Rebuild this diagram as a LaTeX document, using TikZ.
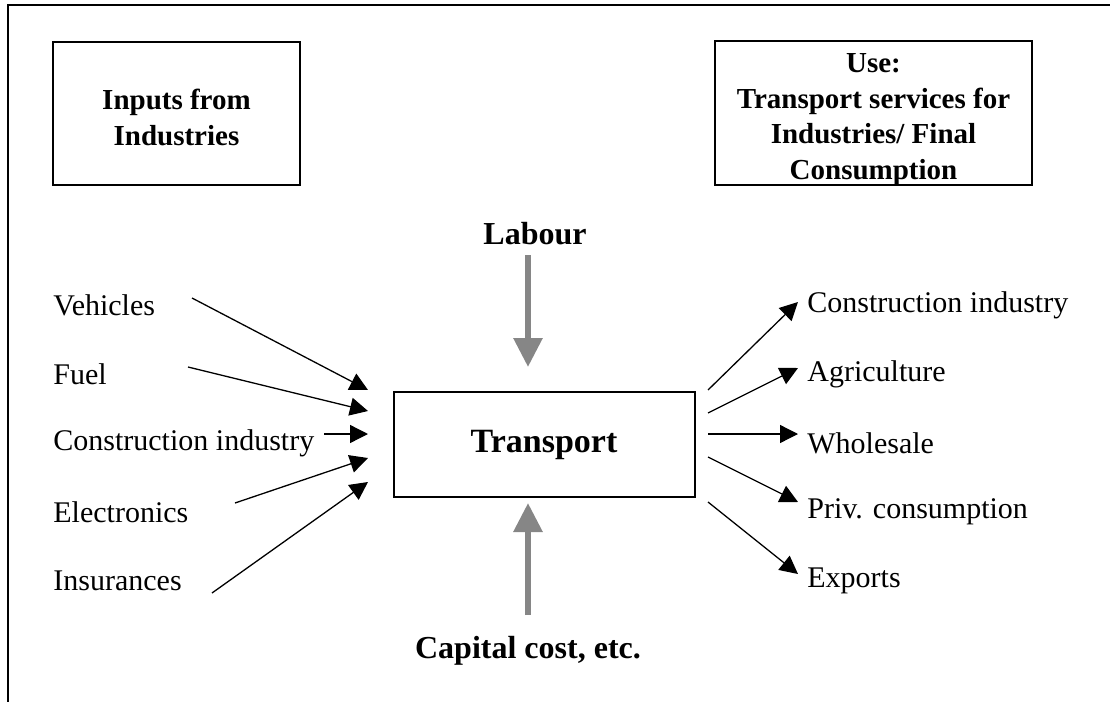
\documentclass[tikz,border=0pt]{standalone}
\usepackage{fontspec}
\setmainfont{Liberation Serif}
\usetikzlibrary{positioning,arrows.meta}

\definecolor{arrgray}{RGB}{134,134,134}

\tikzset{
    box/.style={rectangle,draw,line width=1pt,inner sep=0pt,align=center,font=\bfseries\fontsize{14.5}{17.75}\selectfont},
    lbl/.style={anchor=west,inner sep=0pt,font=\fontsize{15}{18}\selectfont},
    arr/.style={line width=0.65pt,-{Triangle[length=9pt,width=9pt]}},
    bigarr/.style={draw=arrgray,line width=3pt,-{Triangle[length=14.5pt,width=14pt]}}
}

\begin{document}
\begin{tikzpicture}[x=0.5pt,y=-0.5pt]
    \useasboundingbox (0,0) rectangle (1110,702);
    \draw[line width=1pt] (8,702) -- (8,5) -- (1110,5);

    % boxes
    \node[box,minimum width=123.5pt,minimum height=71.5pt] (inputs) at (176.5,113.5) {\rule{0pt}{14pt}Inputs from\\Industries};
    \node[box,minimum width=158.5pt,minimum height=72pt] (use) at (873.5,113) {\rule{0pt}{13pt}Use:\\Transport services for\\Industries/ Final\\\raisebox{0pt}[\height][0pt]{Consumption}};
    \node[rectangle,draw,line width=1pt,minimum width=150.5pt,minimum height=52.5pt,font=\bfseries\fontsize{17}{20}\selectfont] (trans) at (544,444.5) {Transport};

    \node[font=\bfseries\fontsize{16}{19}\selectfont] (labour) at (535,234) {Labour};
    \node[font=\bfseries\fontsize{16}{19}\selectfont] (capital) at (528,651) {Capital cost, etc.};

    % inputs
    \node[lbl] (veh) at (53,305) {Vehicles};
    \node[lbl] (fuel) at (53,374) {Fuel};
    \node[lbl] (cons) at (53,443) {Construction industry};
    \node[lbl] (elec) at (53,512) {Electronics};
    \node[lbl] (ins) at (53,581) {Insurances};

    % uses
    \node[lbl] (rcons) at (807,305) {Construction industry};
    \node[lbl] (agri) at (807,374) {Agriculture};
    \node[lbl] (whole) at (807,443) {Wholesale};
    \node[lbl] (priv) at (807,512) {Priv. consumption};
    \node[lbl] (exp) at (807,581) {Exports};

    \foreach \n/\sx/\sy/\ty in {veh/192/298/390,fuel/188/367/411,cons/324/434/434,elec/235/503/458,ins/212/593/482}{
        \coordinate (\n-a) at (\sx,\sy);
        \coordinate (\n-b) at (368,\ty);
        \draw[arr] (\n-a) -- (\n-b);
    }
    \foreach \n/\sy/\ty in {rcons/390/302,agri/413/368,whole/434/434,priv/457/502,exp/502/574}{
        \coordinate (\n-a) at (708,\sy);
        \coordinate (\n-b) at (798,\ty);
        \draw[arr] (\n-a) -- (\n-b);
    }

    \coordinate (lab-a) at (528,255);
    \coordinate (lab-b) at (528,367);
    \coordinate (cap-a) at (528,615);
    \coordinate (cap-b) at (528,503);
    \draw[bigarr] (lab-a) -- (lab-b);
    \draw[bigarr] (cap-a) -- (cap-b);
\end{tikzpicture}
\end{document}
